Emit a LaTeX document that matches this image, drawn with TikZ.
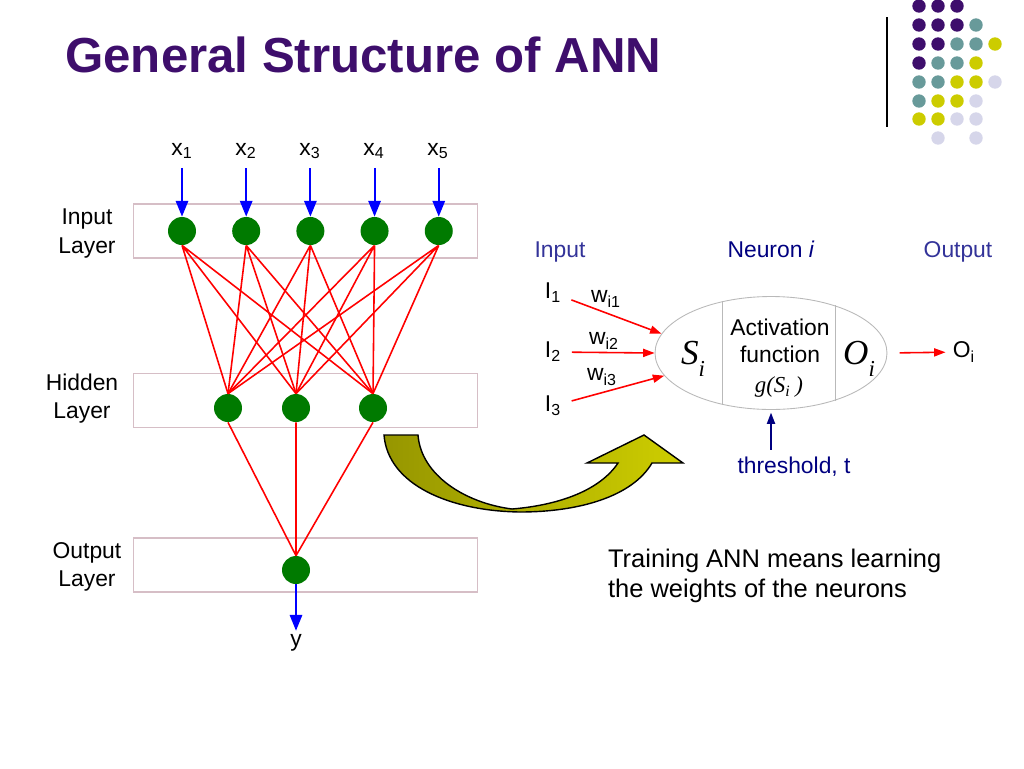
\documentclass[tikz,border=0pt]{standalone}
\usepackage{fontspec}
\setmainfont{Liberation Sans}
\newfontfamily\serifface{Liberation Serif}
\usepackage{tikz}
\usetikzlibrary{shapes.geometric, arrows.meta, calc, positioning}
\definecolor{titlepurple}{RGB}{62,14,108}
\definecolor{dotpurple}{RGB}{62,14,108}
\definecolor{dotteal}{RGB}{104,154,154}
\definecolor{dotyellow}{RGB}{204,204,0}
\definecolor{dotlilac}{RGB}{214,214,234}
\definecolor{unitgreen}{RGB}{0,122,0}
\definecolor{boxline}{RGB}{214,190,198}
\definecolor{headblue}{RGB}{51,51,153}
\definecolor{neuronnavy}{RGB}{0,0,128}
\definecolor{arrowolive}{RGB}{150,150,0}
\definecolor{arrowyellow}{RGB}{206,206,0}
\tikzstyle{unit} = [circle, fill=unitgreen, minimum size=0.56cm, inner sep=0pt]
\tikzstyle{layerbox} = [rectangle, draw=boxline, line width=0.6pt, minimum width=6.9cm, minimum height=1.08cm]
\tikzstyle{txt} = [inner sep=1pt, font=\fontsize{13}{16}\selectfont]
\tikzstyle{layertext} = [txt, align=center]
\tikzstyle{inarrow} = [blue, line width=1.2pt, -{Triangle[length=9pt, width=7pt]}]
\tikzstyle{wire} = [red, line width=0.9pt]
\tikzstyle{redarrow} = [red, line width=0.9pt, -{Triangle[length=6.5pt, width=4.6pt]}]
\tikzstyle{navyarrow} = [neuronnavy, line width=1.1pt, -{Triangle[length=6.5pt, width=4.6pt]}]
\tikzstyle{divider} = [gray!55, line width=0.5pt]
\begin{document}
\begin{tikzpicture}[x=0.02cm, y=-0.02cm, node distance = 7.1mm, auto]
	\useasboundingbox (0,0) rectangle (1024,768);
	\node (Title) [anchor=base west, inner sep=0pt, text=titlepurple, font=\fontsize{28}{34}\selectfont\bfseries] at (65,72) {General Structure of ANN};
	
	% corner decoration
	\draw [line width=1pt] (887,17) -- (887,127);
	\fill [dotpurple] (919,6) circle (0.134cm) (938,6) circle (0.134cm) (957,6) circle (0.134cm)
		(919,25) circle (0.134cm) (938,25) circle (0.134cm) (957,25) circle (0.134cm)
		(919,44) circle (0.134cm) (938,44) circle (0.134cm) (919,63) circle (0.134cm);
	\fill [dotteal] (976,25) circle (0.134cm) (957,44) circle (0.134cm) (976,44) circle (0.134cm)
		(938,63) circle (0.134cm) (957,63) circle (0.134cm) (919,82) circle (0.134cm)
		(938,82) circle (0.134cm) (919,101) circle (0.134cm);
	\fill [dotyellow] (995,44) circle (0.134cm) (976,63) circle (0.134cm) (957,82) circle (0.134cm)
		(976,82) circle (0.134cm) (938,101) circle (0.134cm) (957,101) circle (0.134cm)
		(919,119) circle (0.134cm) (938,119) circle (0.134cm);
	\fill [dotlilac] (995,82) circle (0.134cm) (976,101) circle (0.134cm) (957,119) circle (0.134cm)
		(976,119) circle (0.134cm) (938,138) circle (0.134cm) (976,138) circle (0.134cm);
	
	% network
	\node (InputBox) [layerbox] at (305.5,231) {};
	\node (HiddenBox) [layerbox] at (305.5,400.5) {};
	\node (OutputBox) [layerbox] at (305.5,565) {};
	\node (InputText) [layertext] at (87,233.5) {Input\\Layer};
	\node (HiddenText) [layertext] at (82,398.5) {Hidden\\Layer};
	\node (OutputText) [layertext] at (87,566.5) {Output\\Layer};
	
	\node (In1) [unit] at (182,231) {};
	\node (In2) [unit, right = of In1] {};
	\node (In3) [unit, right = of In2] {};
	\node (In4) [unit, right = of In3] {};
	\node (In5) [unit, right = of In4] {};
	\node (Hid1) [unit] at (228,408) {};
	\node (Hid2) [unit] at (296,408) {};
	\node (Hid3) [unit] at (373,408) {};
	\node (Out) [unit] at (296,570) {};
	
	\node (X1) [txt, anchor=base] at (182,155) {x\textsubscript{1}};
	\node (X2) [txt, anchor=base] at (246,155) {x\textsubscript{2}};
	\node (X3) [txt, anchor=base] at (310,155) {x\textsubscript{3}};
	\node (X4) [txt, anchor=base] at (374,155) {x\textsubscript{4}};
	\node (X5) [txt, anchor=base] at (438,155) {x\textsubscript{5}};
	\node (Y) [txt] at (296,643) {y};
	
	\draw [inarrow, shorten <=4pt] (In1 |- X1.south) -- (In1);
	\draw [inarrow, shorten <=4pt] (In2 |- X2.south) -- (In2);
	\draw [inarrow, shorten <=4pt] (In3 |- X3.south) -- (In3);
	\draw [inarrow, shorten <=4pt] (In4 |- X4.south) -- (In4);
	\draw [inarrow, shorten <=4pt] (In5 |- X5.south) -- (In5);
	\draw [wire] (In1.south) -- (Hid1.north) (In1.south) -- (Hid2.north) (In1.south) -- (Hid3.north);
	\draw [wire] (In2.south) -- (Hid1.north) (In2.south) -- (Hid2.north) (In2.south) -- (Hid3.north);
	\draw [wire] (In3.south) -- (Hid1.north) (In3.south) -- (Hid2.north) (In3.south) -- (Hid3.north);
	\draw [wire] (In4.south) -- (Hid1.north) (In4.south) -- (Hid2.north) (In4.south) -- (Hid3.north);
	\draw [wire] (In5.south) -- (Hid1.north) (In5.south) -- (Hid2.north) (In5.south) -- (Hid3.north);
	\draw [wire] (Hid1.south) -- (Out.north) (Hid2.south) -- (Out.north) (Hid3.south) -- (Out.north);
	\draw [inarrow, shorten >=1pt] (Out.south) -- (Y.north);
	
	% curved arrow
	\path [draw=black, line width=0.8pt, left color=arrowolive, right color=arrowyellow]
		(384,435) -- (418,435)
		.. controls (421,475) and (465,503) .. (512,509)
		.. controls (560,505) and (600,490) .. (618,463)
		-- (587,463) -- (644,435) -- (683,463) -- (652,463)
		.. controls (632,497) and (578,512) .. (520,512)
		.. controls (450,511) and (388,485) .. (384,435) -- cycle;
	
	% single neuron
	\node (InputHead) [txt, text=headblue, anchor=base] at (560,257) {Input};
	\node (NeuronHead) [txt, text=neuronnavy, anchor=base] at (771,257) {Neuron \textit{i}};
	\node (OutputHead) [txt, text=headblue, anchor=base] at (958,257) {Output};
	\node (Neuron) [ellipse, draw=gray!55, line width=0.5pt, minimum width=4.64cm, minimum height=2.26cm, inner sep=0pt] at (771,353) {};
	\draw [divider] (722,301) -- (722,405) (835,305) -- (835,401);
	\node (Si) [inner sep=0pt] at (693,359) {\serifface\itshape\fontsize{20}{20}\selectfont S\raisebox{-6.8pt}{\fontsize{13}{13}\selectfont i}};
	\node (Oi) [inner sep=0pt] at (859,359) {\serifface\itshape\fontsize{20}{20}\selectfont O\raisebox{-6.8pt}{\fontsize{13}{13}\selectfont i}};
	\node (Act) [layertext, font=\fontsize{13}{15.4}\selectfont] at (780,340.5) {Activation\\function};
	\node (Gfun) [inner sep=0pt] at (779,387) {\serifface\itshape\fontsize{13}{13}\selectfont g(S\raisebox{-2.5pt}{\fontsize{9}{9}\selectfont i} )};
	
	\node (I1) [txt] at (553,293) {I\textsubscript{1}};
	\node (I2) [txt] at (553,352) {I\textsubscript{2}};
	\node (I3) [txt] at (553,406) {I\textsubscript{3}};
	\node (W1) [txt] at (606,299) {w\textsubscript{i1}};
	\node (W2) [txt] at (604,341) {w\textsubscript{i2}};
	\node (W3) [txt] at (602,377) {w\textsubscript{i3}};
	\node (Oout) [txt] at (964,352) {O\textsubscript{i}};
	\node (Thresh) [txt, text=neuronnavy] at (794,467) {threshold, t};
	
	\draw [redarrow, shorten <=5pt] (I1) -- (Neuron.170);
	\draw [redarrow, shorten <=5pt] (I2) -- (Neuron.west);
	\draw [redarrow, shorten <=5pt] (I3) -- (Neuron.192);
	\draw [redarrow, shorten <=7pt, shorten >=3pt] (Neuron.east) -- (Oout);
	\draw [navyarrow, shorten <=3pt, shorten >=1.5pt] (Neuron.south |- Thresh.north) -- (Neuron.south);
	
	\node (Note) [txt, align=left, anchor=north west, font=\fontsize{14.5}{17}\selectfont] at (606,547) {Training ANN means learning\\the weights of the neurons};
\end{tikzpicture}
\end{document}
